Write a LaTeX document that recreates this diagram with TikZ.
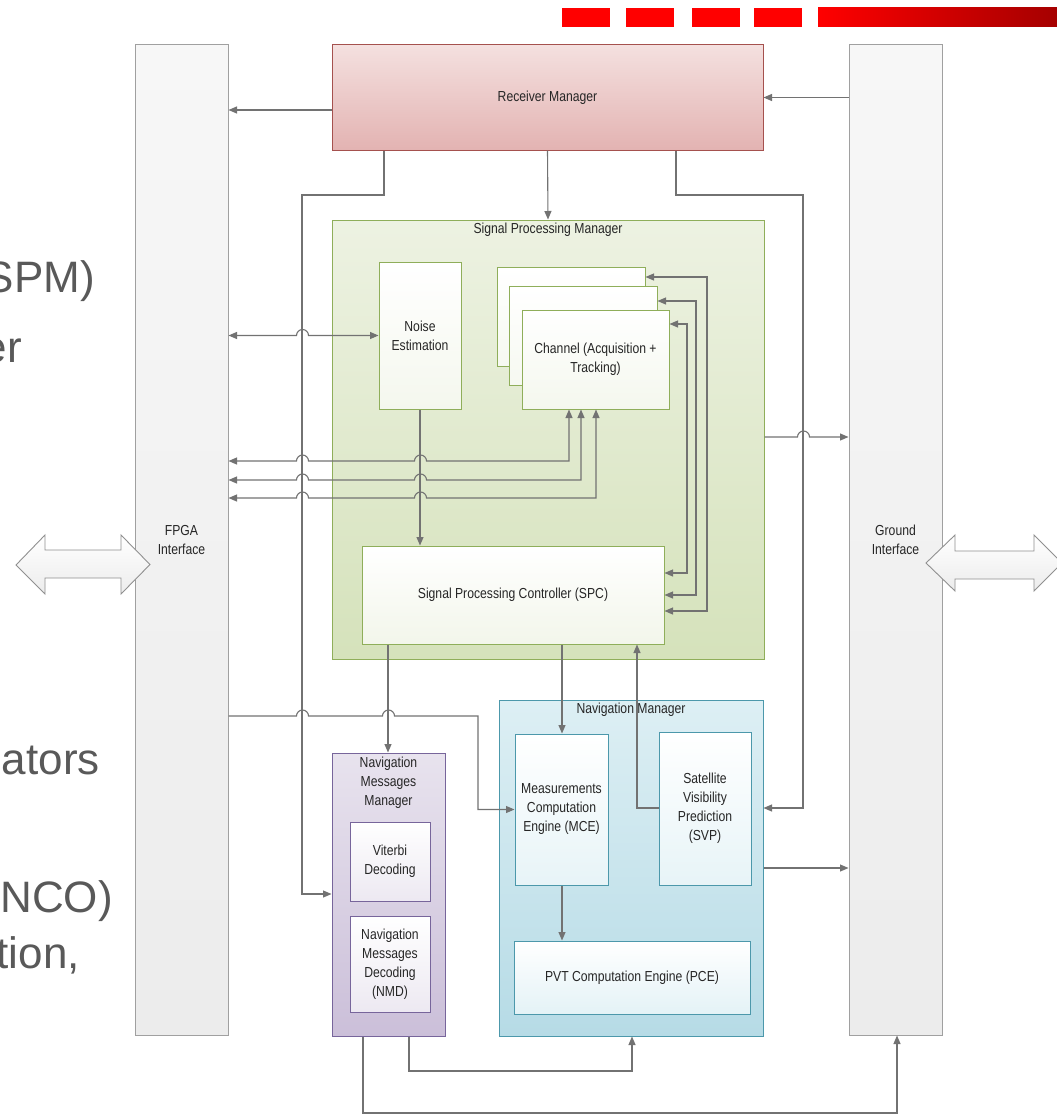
\documentclass[tikz,border=0pt]{standalone}
\usepackage{fontspec}
\setmainfont{Liberation Sans}
\newfontfamily\lblfont[FakeStretch=0.84]{Liberation Sans}
\usetikzlibrary{arrows.meta}
\definecolor{lineC}{HTML}{727272}
\definecolor{lblC}{HTML}{262626}
\definecolor{txtGray}{HTML}{595959}
\definecolor{barRed}{HTML}{FF0000}
\definecolor{barDark}{HTML}{A50000}
\definecolor{rmTop}{HTML}{F4E0DF}
\definecolor{rmBot}{HTML}{E3B3B2}
\definecolor{rmBorder}{HTML}{A5514E}
\definecolor{spmTop}{HTML}{EDF2E2}
\definecolor{spmBot}{HTML}{D5E2BB}
\definecolor{spmBorder}{HTML}{8FAE5A}
\definecolor{nmTop}{HTML}{DDEFF4}
\definecolor{nmBot}{HTML}{B6DBE6}
\definecolor{nmBorder}{HTML}{4C98AB}
\definecolor{nmmTop}{HTML}{E8E3EE}
\definecolor{nmmBot}{HTML}{CBBFD9}
\definecolor{nmmBorder}{HTML}{77659B}
\definecolor{ifTop}{HTML}{F7F7F7}
\definecolor{ifBot}{HTML}{ECECEC}
\definecolor{ifBorder}{HTML}{A0A0A0}
\tikzset{
  lbl/.style={font=\lblfont\fontsize{14.5}{19}\selectfont, text=lblC, align=center, inner sep=0pt},
  blk/.style={lbl, rectangle, draw, line width=1pt},
  conn/.style={draw=lineC, line width=1.1pt, >={Triangle[length=8.5pt,width=7pt]}, arrows={-}},
  bigtxt/.style={font=\fontsize{44}{50}\selectfont, text=txtGray, inner sep=0pt},
  bigarrow/.style={draw=ifBorder!90!black, line width=0.9pt, top color=white, bottom color=ifBot, line join=miter},
}
\begin{document}
\begin{tikzpicture}[x=1pt,y=-1pt]
\useasboundingbox (0,0) rectangle (1057,1116);
\clip (0,0) rectangle (1057,1116);
\fill[white] (0,0) rectangle (1057,1116);

% red bars
\fill[barRed] (562,8) rectangle (610,27);
\fill[barRed] (626,8) rectangle (674,27);
\fill[barRed] (692,8) rectangle (740,27);
\fill[barRed] (754,8) rectangle (802,27);
\shade[left color=barRed, right color=barDark] (818,8) rectangle (1057,27);

% text of the slide, cut off at the left edge as in the reference
\node[bigtxt, anchor=base east] (t1) at (95,292) {SPM)};
\node[bigtxt, anchor=base east] (t2) at (22,362) {er};
\node[bigtxt, anchor=base east] (t3) at (100,774) {ators};
\node[bigtxt, anchor=base east] (t4) at (113,912) {NCO)};
\node[bigtxt, anchor=base east] (t5) at (80,968) {tion,};

% interfaces
\node[blk, minimum width=93, minimum height=990, top color=ifTop, bottom color=ifBot, draw=ifBorder] (fpga) at (181.5,540) {FPGA\\Interface};
\node[blk, minimum width=93, minimum height=990, top color=ifTop, bottom color=ifBot, draw=ifBorder] (ground) at (895.5,540) {Ground\\Interface};

% receiver manager
\node[blk, minimum width=431, minimum height=105, top color=rmTop, bottom color=rmBot, draw=rmBorder] (rm) at (547.5,97.5) {Receiver Manager};

% signal processing manager
\node[blk, minimum width=432, minimum height=439, top color=spmTop, bottom color=spmBot, draw=spmBorder] (spm) at (548,439.5) {};
\node[lbl, anchor=north] (spmlbl) at ([yshift=-3]spm.north) {Signal Processing Manager};
\node[blk, minimum width=82, minimum height=147, top color=white, bottom color=spmTop!60!white, draw=spmBorder] (noise) at (420,335.5) {Noise\\Estimation};
\node[blk, minimum width=148, minimum height=99, top color=white, bottom color=spmTop!50!white, draw=spmBorder] (ch1) at (571,316.5) {};
\node[blk, minimum width=148, minimum height=99, top color=white, bottom color=spmTop!50!white, draw=spmBorder] (ch2) at (583,335.5) {};
\node[blk, minimum width=147, minimum height=99, top color=white, bottom color=spmTop!60!white, draw=spmBorder] (ch3) at (595.5,359.5) {Channel (Acquisition +\\Tracking)};
\node[blk, minimum width=302, minimum height=98, top color=white, bottom color=spmTop!70!white, draw=spmBorder] (spc) at (513,595) {Signal Processing Controller (SPC)};

% navigation manager
\node[blk, minimum width=264, minimum height=336, top color=nmTop, bottom color=nmBot, draw=nmBorder] (nm) at (631,868) {};
\node[lbl, anchor=north] (nmlbl) at ([yshift=-3]nm.north) {Navigation Manager};
\node[blk, minimum width=93, minimum height=151, top color=white, bottom color=nmTop!70!white, draw=nmBorder] (mce) at (561.5,809.5) {Measurements\\Computation\\Engine (MCE)};
\node[blk, minimum width=92, minimum height=153, top color=white, bottom color=nmTop!70!white, draw=nmBorder] (svp) at (705,808.5) {Satellite\\Visibility\\Prediction\\(SVP)};
\node[blk, minimum width=236, minimum height=73, top color=white, bottom color=nmTop!80!white, draw=nmBorder] (pce) at (632,977.5) {PVT Computation Engine (PCE)};

% navigation messages manager
\node[blk, minimum width=113, minimum height=283, top color=nmmTop, bottom color=nmmBot, draw=nmmBorder] (nmm) at (388.5,894.5) {};
\node[lbl, anchor=north] (nmmlbl) at ([yshift=-4]nmm.north) {Navigation\\Messages\\Manager};
\node[blk, minimum width=80, minimum height=79, top color=white, bottom color=nmmTop!80!white, draw=nmmBorder] (vit) at (390,861.5) {Viterbi\\Decoding};
\node[blk, minimum width=80, minimum height=96, top color=white, bottom color=nmmTop!80!white, draw=nmmBorder] (nmd) at (390,964) {Navigation\\Messages\\Decoding\\(NMD)};

% helper coordinates
\coordinate (yA) at (0,110);
\coordinate (a1) at (384,195);
\coordinate (a2) at (302,195);
\coordinate (a3) at (302,894);
\coordinate (b1) at (676,195);
\coordinate (b2) at (803,195);
\coordinate (b3) at (803,808);
\coordinate (c1) at (569,461);
\coordinate (c2) at (581,480);
\coordinate (c3) at (596,498);
\coordinate (d1) at (707,277);
\coordinate (d2) at (707,611);
\coordinate (d3) at (696,301);
\coordinate (d4) at (696,595);
\coordinate (d5) at (687,324);
\coordinate (d6) at (687,573);
\coordinate (e1) at (0,437);
\coordinate (f1) at (388,0);
\coordinate (g1) at (0,716);
\coordinate (g2) at (478,716);
\coordinate (h1) at (562,0);
\coordinate (i1) at (637,808);
\coordinate (j1) at (0,868);
\coordinate (k1) at (409,1071);
\coordinate (k2) at (632,1071);
\coordinate (l1) at (363,1113);
\coordinate (l2) at (897,1113);

% connectors
\draw[conn,->] (rm.west |- yA) -- (fpga.east |- yA);
\draw[conn,->] (ground.west |- rm.east) -- (rm.east);
\draw[conn,->] (rm.south) -- (spm.north);
\draw[conn,->] (rm.south -| a1) -- (a1) -- (a2) -- (a3) -- (nmm.west |- a3);
\draw[conn,->] (rm.south -| b1) -- (b1) -- (b2) -- (b3) -- (nm.east |- b3);
\draw[conn,<->] (fpga.east |- noise.west) -- ++(68,0) arc[start angle=180,end angle=360,radius=6] -- (noise.west);
\draw[conn,->] (noise.south) -- (noise.south |- spc.north);
\draw[conn,<->] (fpga.east |- c1) -- ++(68,0) arc[start angle=180,end angle=360,radius=6] -- ++(106,0) arc[start angle=180,end angle=360,radius=6] -- (c1) -- (c1 |- ch3.south);
\draw[conn,<->] (fpga.east |- c2) -- ++(68,0) arc[start angle=180,end angle=360,radius=6] -- ++(106,0) arc[start angle=180,end angle=360,radius=6] -- (c2) -- (c2 |- ch3.south);
\draw[conn,<->] (fpga.east |- c3) -- ++(68,0) arc[start angle=180,end angle=360,radius=6] -- ++(106,0) arc[start angle=180,end angle=360,radius=6] -- (c3) -- (c3 |- ch3.south);
\draw[conn,<->] (ch1.east |- d1) -- (d1) -- (d2) -- (spc.east |- d2);
\draw[conn,<->] (ch2.east |- d3) -- (d3) -- (d4) -- (spc.east |- d4);
\draw[conn,<->] (ch3.east |- d5) -- (d5) -- (d6) -- (spc.east |- d6);
\draw[conn,->] (spm.east |- e1) -- ++(33,0) arc[start angle=180,end angle=360,radius=6] -- (ground.west |- e1);
\draw[conn,->] (spc.south -| f1) -- (nmm.north -| f1);
\draw[conn,->] (fpga.east |- g1) -- ++(68,0) arc[start angle=180,end angle=360,radius=6] -- ++(74,0) arc[start angle=180,end angle=360,radius=6] -- (g2) -- (g2 |- mce.west) -- (mce.west);
\draw[conn,->] (spc.south -| h1) -- (mce.north -| h1);
\draw[conn,->] (svp.west |- i1) -- (i1) -- (spc.south -| i1);
\draw[conn,->] (mce.south -| h1) -- (pce.north -| h1);
\draw[conn,->] (nm.east |- j1) -- (ground.west |- j1);
\draw[conn,->] (nmm.south -| k1) -- (k1) -- (k2) -- (nm.south -| k2);
\draw[conn,->] (nmm.south -| l1) -- (l1) -- (l2) -- (ground.south -| l2);

% big double arrows
\draw[bigarrow] (16,565) -- (45,535) -- (45,550) -- (121,550) -- (121,535) -- (150,564.5) -- (121,594) -- (121,578) -- (45,578) -- (45,594) -- cycle;
\draw[bigarrow] (926,563) -- (955,535) -- (955,551) -- (1034,551) -- (1034,535) -- (1062,563) -- (1034,591) -- (1034,579) -- (955,579) -- (955,591) -- cycle;
\end{tikzpicture}
\end{document}
